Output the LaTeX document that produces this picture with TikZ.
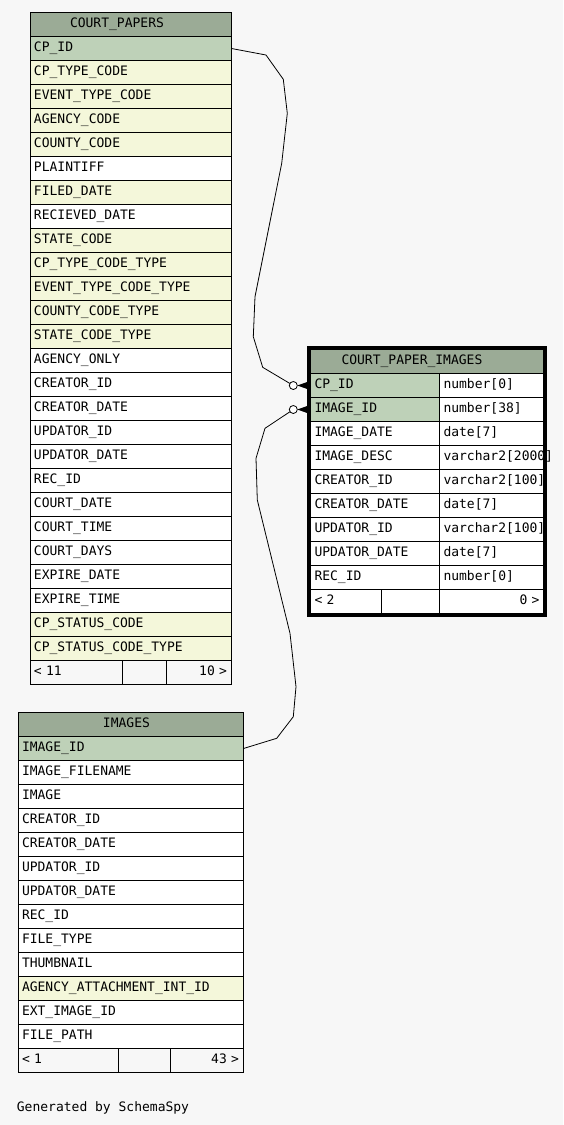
\documentclass[tikz,border=0pt]{standalone}
\usepackage{fontspec}
\setmonofont{DejaVu Sans Mono}
\usetikzlibrary{positioning}
\definecolor{kopf}{HTML}{9BAB96}
\definecolor{pkey}{HTML}{BED1B8}
\definecolor{fkey}{HTML}{F4F7DA}
\definecolor{hgrund}{HTML}{F7F7F7}
\newcommand{\tabfont}{\ttfamily\fontsize{13pt}{13pt}\selectfont}
\tikzset{
  cell/.style={draw=black,line width=1pt,anchor=north west,minimum height=24pt,
    inner xsep=4pt,inner ysep=0pt,text height=9.5pt,text depth=3.5pt,
    align=left,font=\tabfont,text width=#1},
  rcell/.style={cell=#1,align=right},
  rel/.style={black,line width=0.8pt,line join=round},
  ring/.style={circle,draw=black,fill=white,line width=0.8pt,minimum size=8pt,inner sep=0pt,outer sep=0pt},
  rahmen/.style={draw=black,line width=3pt},
}

\begin{document}
\begin{tikzpicture}[x=1pt,y=-1pt]
  \fill[hgrund] (0,0) rectangle (563,1125);
  \useasboundingbox (0,0) rectangle (563,1125);

  % COURT_PAPERS
  \node[cell=193pt,fill=kopf] (cp0) at (29.5,12) {\hspace*{36pt}COURT\_PAPERS};
  \foreach \n/\k [count=\i] in {CP\_ID/pkey,CP\_TYPE\_CODE/fkey,EVENT\_TYPE\_CODE/fkey,
      AGENCY\_CODE/fkey,COUNTY\_CODE/fkey,PLAINTIFF/white,FILED\_DATE/fkey,
      RECIEVED\_DATE/white,STATE\_CODE/fkey,CP\_TYPE\_CODE\_TYPE/fkey,
      EVENT\_TYPE\_CODE\_TYPE/fkey,COUNTY\_CODE\_TYPE/fkey,STATE\_CODE\_TYPE/fkey,
      AGENCY\_ONLY/white,CREATOR\_ID/white,CREATOR\_DATE/white,UPDATOR\_ID/white,
      UPDATOR\_DATE/white,REC\_ID/white,COURT\_DATE/white,COURT\_TIME/white,
      COURT\_DAYS/white,EXPIRE\_DATE/white,EXPIRE\_TIME/white,
      CP\_STATUS\_CODE/fkey,CP\_STATUS\_CODE\_TYPE/fkey}
    \node[cell=193pt,fill=\k] (cp\i) at (29.5,{12+24*\i}) {\n};
  \node[cell=84pt] (cpf1) at (29.5,660) {< 11};
  \node[cell=36pt] (cpf2) at (121.5,660) {};
  \node[rcell=57pt] (cpf3) at (165.5,660) {10 >};

  % IMAGES
  \node[cell=217pt,fill=kopf] (img0) at (17.5,712) {\hspace*{81pt}IMAGES};
  \foreach \n/\k [count=\i] in {IMAGE\_ID/pkey,IMAGE\_FILENAME/white,IMAGE/white,
      CREATOR\_ID/white,CREATOR\_DATE/white,UPDATOR\_ID/white,UPDATOR\_DATE/white,
      REC\_ID/white,FILE\_TYPE/white,THUMBNAIL/white,
      AGENCY\_ATTACHMENT\_INT\_ID/fkey,EXT\_IMAGE\_ID/white,FILE\_PATH/white}
    \node[cell=217pt,fill=\k] (img\i) at (17.5,{712+24*\i}) {\n};
  \node[cell=92pt] (imgf1) at (17.5,1048) {< 1};
  \node[cell=44pt] (imgf2) at (117.5,1048) {};
  \node[rcell=65pt] (imgf3) at (169.5,1048) {43 >};

  % COURT_PAPER_IMAGES
  \node[cell=225pt,fill=kopf] (cpi0) at (310,349) {\hspace*{27pt}COURT\_PAPER\_IMAGES};
  \foreach \n/\t/\k [count=\i] in {CP\_ID/number[0]/pkey,IMAGE\_ID/number[38]/pkey,
      IMAGE\_DATE/date[7]/white,IMAGE\_DESC/varchar2[2000]/white,
      CREATOR\_ID/varchar2[100]/white,CREATOR\_DATE/date[7]/white,
      UPDATOR\_ID/varchar2[100]/white,UPDATOR\_DATE/date[7]/white,
      REC\_ID/number[0]/white}
  {
    \node[cell=121pt,fill=\k] (cpi\i) at (310,{349+24*\i}) {\n};
    \node[cell=96pt,fill=white] (cpt\i) at (439,{349+24*\i}) {\t};
  }
  \node[cell=63pt,fill=white] (cpif1) at (310,589) {< 2};
  \node[cell=50pt,fill=white] (cpif2) at (381,589) {};
  \node[rcell=96pt,fill=white] (cpif3) at (439,589) {0 >};

  % relations
  \node[ring,left=12.7pt of cpi1.west] (r1) {};
  \node[ring,left=12.7pt of cpi2.west] (r2) {};
  \draw[rel] (cp1.east) -- (266,55) -- (283.3,79.3) -- (287.3,113.3) -- (281.7,163.3)
    -- (255,296.7) -- (253.3,336.7) -- (262.7,367.3) -- (r1);
  \draw[rel] (img1.east) -- (276.7,738.3) -- (293.3,716.7) -- (296,686.7) -- (290,633.3)
    -- (257.3,500) -- (256,458.3) -- (265,428.3) -- (r2);
  \fill (r1.east) -- ([yshift=4.5pt]cpi1.west) -- ([yshift=-4.5pt]cpi1.west) -- cycle;
  \fill (r2.east) -- ([yshift=4.5pt]cpi2.west) -- ([yshift=-4.5pt]cpi2.west) -- cycle;
  \draw[rahmen] ([xshift=-1.5pt,yshift=1.5pt]cpi0.north west)
    rectangle ([xshift=1.5pt,yshift=-1.5pt]cpif3.south east);

  \node[font=\tabfont,anchor=base west,inner sep=0pt] (gen) at (16.7,1111.7) {Generated by SchemaSpy};
\end{tikzpicture}
\end{document}
